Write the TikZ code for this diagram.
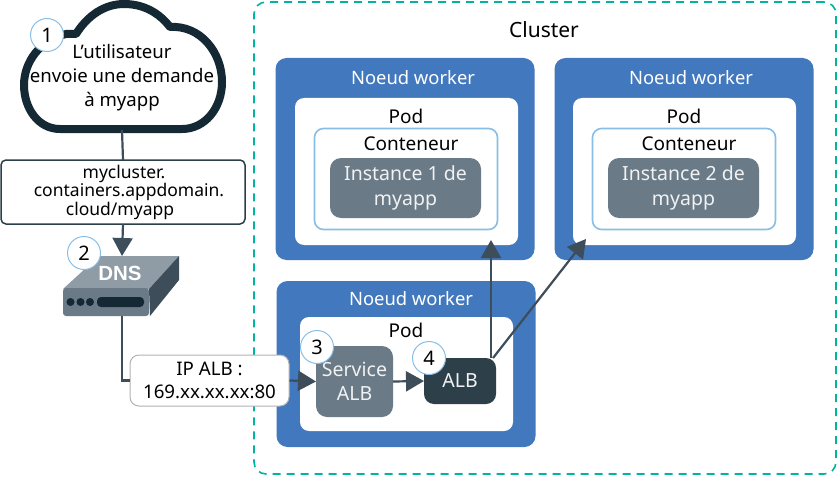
\documentclass[tikz,border=0pt]{standalone}
\usepackage{fontspec}
\setmainfont{Noto Sans}
\newfontfamily\dnsfont{Liberation Sans}
\usetikzlibrary{arrows.meta}
\definecolor{ibmblue}{RGB}{65,120,190}
\definecolor{ibmgray}{RGB}{106,122,135}
\definecolor{ibmdark}{RGB}{45,63,73}
\definecolor{ibmnavy}{RGB}{21,41,53}
\definecolor{ibmarrow}{RGB}{61,78,90}
\definecolor{ibmteal}{RGB}{0,180,160}
\definecolor{ibmsky}{RGB}{135,190,232}

\begin{document}
\begin{tikzpicture}[
    x=1pt, y=-1pt,
    txt/.style={font=\fontsize{19}{24}\selectfont, align=center, inner sep=0pt, text=black},
    workerbox/.style={rectangle, fill=ibmblue, rounded corners=11pt, minimum width=259pt, outer sep=0pt},
    podbox/.style={rectangle, fill=white, rounded corners=9pt, minimum width=223pt, outer sep=0pt},
    ctrbox/.style={rectangle, draw=ibmsky, line width=1.6pt, fill=white, rounded corners=9pt,
                   minimum width=183pt, minimum height=101pt, outer sep=0pt},
    instbox/.style={rectangle, fill=ibmgray, rounded corners=11pt, minimum width=151pt, minimum height=60pt,
                    txt, font=\fontsize{19.5}{24.5}\selectfont, text=white!90!ibmgray, outer sep=0pt},
    wlbl/.style={txt, font=\fontsize{18.4}{24}\selectfont, text=white},
    numcirc/.style={circle, draw=ibmsky, line width=1pt, fill=white, minimum size=33pt, inner sep=0pt,
                    font=\fontsize{20}{22}\selectfont, text=black},
    urlbox/.style={rectangle, draw=ibmdark, line width=1.5pt, fill=white, rounded corners=5pt, outer sep=0pt,
                   font=\fontsize{17.5}{16.5}\selectfont, align=center, inner sep=0pt},
    conn/.style={draw=ibmarrow, line width=2.2pt},
    arr/.style={conn, -{Triangle[length=18pt, width=20pt]}}
  ]
    \useasboundingbox (0,0) rectangle (837,476);

    % --- Cluster ---
    \node[rectangle, draw=ibmteal, line width=1.6pt, dash pattern=on 8pt off 6pt, rounded corners=12pt,
          minimum width=582pt, minimum height=472pt] (cluster) at (545,238) {};
    \node[txt, font=\fontsize{21}{24}\selectfont] (clusterlbl) at (544,30) {Cluster};

    % --- Worker 1 ---
    \node[workerbox, minimum height=202pt] (w1) at (405,159) {};
    \node[wlbl] (w1lbl) at (413,78) {Noeud worker};
    \node[podbox, minimum height=147pt] (p1) at (406.5,171.5) {};
    \node[txt] (p1lbl) at (406,116) {Pod};
    \node[ctrbox] (c1) at (406,179) {};
    \node[txt] (c1lbl) at (411,144) {Conteneur};
    \node[instbox] (i1) at (405.5,188) {Instance 1 de\\myapp};

    % --- Worker 2 ---
    \node[workerbox, minimum height=202pt] (w2) at (684,159) {};
    \node[wlbl] (w2lbl) at (691,78) {Noeud worker};
    \node[podbox, minimum height=147pt] (p2) at (684.5,171.5) {};
    \node[txt] (p2lbl) at (684,116) {Pod};
    \node[ctrbox] (c2) at (684,179) {};
    \node[txt] (c2lbl) at (689,144) {Conteneur};
    \node[instbox] (i2) at (683.5,188) {Instance 2 de\\myapp};

    % --- Worker 3 ---
    \node[workerbox, minimum height=166pt] (w3) at (406,364) {};
    \node[wlbl] (w3lbl) at (411,299) {Noeud worker};
    \node[podbox, minimum width=213pt, minimum height=114pt] (p3) at (406.5,374) {};
    \node[txt] (p3lbl) at (406,330) {Pod};
    \node[instbox, minimum width=77pt, minimum height=71pt] (svc) at (354.5,381.5) {Service\\ALB};
    \node[instbox, fill=ibmdark, minimum width=72pt, minimum height=46pt, rounded corners=10pt] (alb) at (460,381) {ALB};

    % --- Cloud ---
    \draw[ibmnavy, line width=8pt, fill=white, line join=round]
      (60,129) .. controls (38,129) and (24,108) .. (24,85)
      .. controls (24,62) and (40,40) .. (66,34) -- (76,34)
      .. controls (88,15) and (105,4) .. (124,4)
      .. controls (145,4) and (160,14) .. (170,27)
      .. controls (200,25) and (222,52) .. (222,82)
      .. controls (222,108) and (205,129) .. (182,129) -- cycle;
    \node[txt, font=\fontsize{18.6}{24}\selectfont, minimum width=190pt, minimum height=104pt] (cloud) at (122,78) {L'utilisateur\\envoie une demande\\à myapp};

    % --- URL and DNS ---
    \node[urlbox, minimum width=244pt, minimum height=64pt] (url) at (123,192)
      {\hspace*{2pt}mycluster.\\\hspace*{12pt}containers.appdomain.\\cloud/myapp\hspace*{6pt}};

    \fill[ibmgray!75!white] (63,289) -- (99,256) -- (179,256) -- (149,289) -- cycle;
    \fill[ibmarrow] (149,289) -- (179,256) -- (179,280) -- (150,316) -- cycle;
    \fill[ibmgray, rounded corners=3pt] (63,288) -- (149,288) -- (149,316) -- (63,316) -- cycle;
    \fill[ibmnavy] (70.5,302) circle (4pt) (80.5,302) circle (4pt) (90,302) circle (4pt);
    \fill[ibmnavy, rounded corners=4pt] (97,297) rectangle (144,307);
    \node[minimum width=116pt, minimum height=60pt, inner sep=0pt, outer sep=0pt] (dns) at (122,286) {};
    \node[inner sep=0pt, text=white, font=\dnsfont\fontsize{20.5}{22}\selectfont\bfseries] (dnslbl) at (120,273) {DNS};

    \node[rectangle, draw=black!30, line width=1pt, fill=white, rounded corners=9pt, txt,
          font=\fontsize{18.7}{23.5}\selectfont, minimum width=159pt, minimum height=51pt] (ip) at (209.5,380.5) {IP ALB :\\169.xx.xx.xx:80};

    % --- Connectors ---
    \draw[conn] (cloud.south) -- (url.north);
    \draw[arr] (url.south) -- (dns.north);
    \draw[conn] (dns.south) |- (ip.west);
    \draw[arr] (ip.east) -- (svc.west);
    \draw[arr] (svc.east) -- (alb.west);
    \coordinate (t1) at (491,240);
    \coordinate (a1) at (491,358);
    \coordinate (t2) at (586,239);
    \coordinate (a2) at (493,358);
    \draw[arr] (a1) -- (t1);
    \draw[arr] (a2) -- (t2);

    % --- Step numbers ---
    \node[numcirc] (n1) at (47,35) {1};
    \node[numcirc] (n2) at (84,253) {2};
    \node[numcirc] (n3) at (317,347) {3};
    \node[numcirc] (n4) at (429,358) {4};
\end{tikzpicture}
\end{document}
